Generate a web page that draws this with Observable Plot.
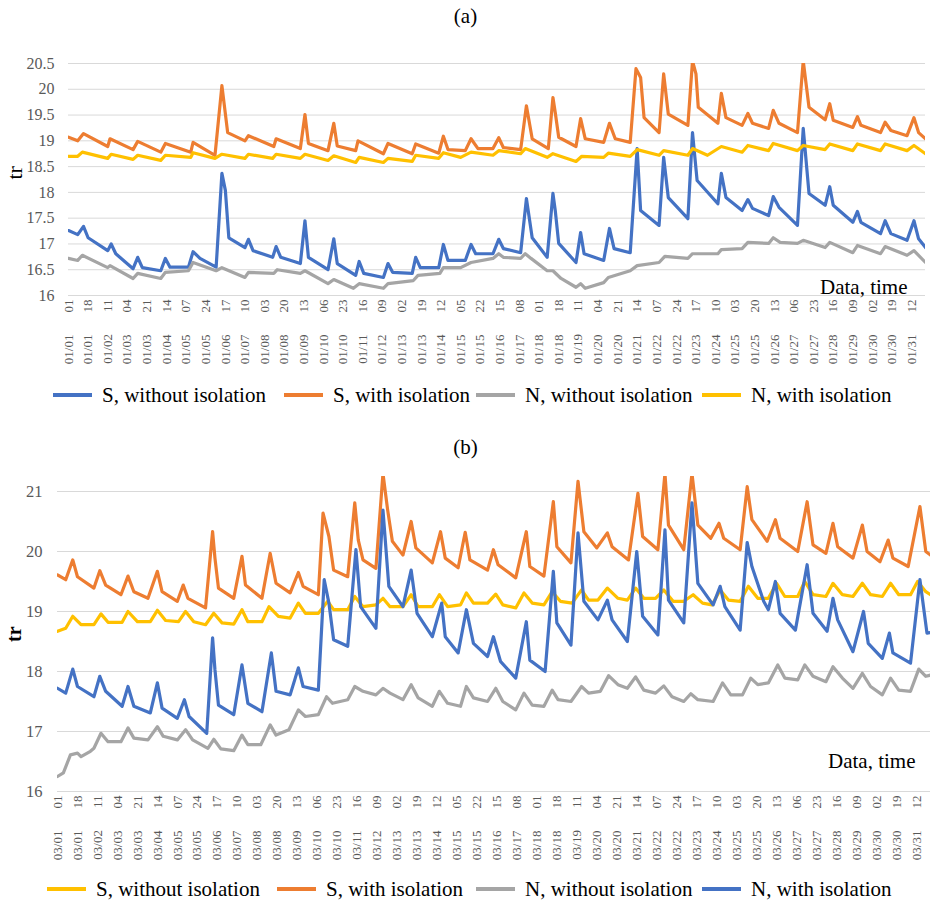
<!DOCTYPE html>
<html><head><meta charset="utf-8">
<script src="https://cdn.jsdelivr.net/npm/d3@7"></script>
<script src="https://cdn.jsdelivr.net/npm/@observablehq/plot@0.6"></script>
<style>
body{margin:0;background:#fff;font-family:"Liberation Serif","Times New Roman",Times,"DejaVu Serif","Noto Serif",serif;}
#wrap{position:relative;width:931px;height:907px;overflow:hidden;}
.title{position:absolute;left:0;width:931px;text-align:center;font-size:21px;line-height:30px;height:30px;color:#000;}
.legend{position:absolute;left:0;width:931px;height:30px;}
.item{position:absolute;top:0;height:30px;display:flex;align-items:center;font-size:21px;white-space:nowrap;color:#000;}
.sw{display:inline-block;width:39px;height:4px;margin-right:10px;}
.chart{position:absolute;left:0;}
svg text{white-space:pre;}
</style></head><body><div id="wrap">
<div class="title" style="top:1px">(a)</div>
<div class="chart" id="ca" style="top:30px"></div>
<div class="legend" id="la" style="top:380px"></div>
<div class="title" style="top:432px">(b)</div>
<div class="chart" id="cb" style="top:468px"></div>
<div class="legend" id="lb" style="top:874px"></div>
</div>
<script>
const FONT = '"Liberation Serif","Times New Roman",Times,"DejaVu Serif","Noto Serif",serif';
// ---------- tick labels ----------
const labelsA = ["01/01 01","01/01 18","01/02 11","01/03 04","01/03 21","01/04 14","01/05 07","01/05 24","01/06 17","01/07 10","01/08 03","01/08 20","01/09 13","01/10 06","01/10 23","01/11 16","01/12 09","01/13 02","01/13 19","01/14 12","01/15 05","01/15 22","01/16 15","01/17 08","01/18 01","01/18 18","01/19 11","01/20 04","01/20 21","01/21 14","01/22 07","01/22 24","01/23 17","01/24 10","01/25 03","01/25 20","01/26 13","01/27 06","01/27 23","01/28 16","01/29 09","01/30 02","01/30 19","01/31 12"];
const labelsB = ["03/01 01","03/01 18","03/02 11","03/03 04","03/03 21","03/04 14","03/05 07","03/05 24","03/06 17","03/07 10","03/08 03","03/08 20","03/09 13","03/10 06","03/10 23","03/11 16","03/12 09","03/13 02","03/13 19","03/14 12","03/15 05","03/15 22","03/16 15","03/17 08","03/18 01","03/18 18","03/19 11","03/20 04","03/20 21","03/21 14","03/22 07","03/22 24","03/23 17","03/24 10","03/25 03","03/25 20","03/26 13","03/27 06","03/27 23","03/28 16","03/29 09","03/30 02","03/30 19","03/31 12"];
const yTicksA = [16,16.5,17,17.5,18,18.5,19,19.5,20,20.5];
const yTicksB = [16,17,18,19,20,21];

// ---------- panel (a) series: [hour of month, value] ----------
const aSwithout = [[1,17.26],[9,17.18],[14,17.34],[18,17.12],[35,16.87],[38,17.0],[42,16.81],[57,16.52],[61,16.74],[65,16.54],[81,16.48],[85,16.72],[89,16.55],[105,16.55],[109,16.85],[115,16.72],[129,16.55],[134,18.37],[137,18.04],[140,17.12],[154,16.93],[157,17.09],[161,16.87],[178,16.74],[181,16.95],[185,16.74],[202,16.62],[206,17.45],[209,16.74],[226,16.5],[231,17.1],[234,16.62],[250,16.39],[253,16.66],[257,16.43],[274,16.35],[278,16.62],[282,16.45],[299,16.43],[302,16.74],[306,16.54],[322,16.54],[326,16.99],[330,16.68],[345,16.68],[350,16.99],[354,16.81],[369,16.81],[374,17.09],[378,16.91],[393,16.83],[398,17.88],[403,17.12],[416,16.74],[421,17.98],[423,17.65],[426,17.01],[441,16.64],[445,17.22],[448,16.81],[465,16.68],[470,17.3],[474,16.91],[488,16.83],[494,18.85],[497,17.65],[513,17.36],[517,18.68],[521,17.9],[538,17.49],[542,19.16],[546,18.23],[564,17.78],[567,18.37],[571,17.9],[585,17.65],[590,17.86],[594,17.69],[608,17.55],[612,17.92],[617,17.71],[633,17.36],[638,19.24],[643,17.98],[657,17.75],[661,18.11],[664,17.75],[681,17.42],[685,17.63],[688,17.42],[705,17.2],[709,17.45],[714,17.2],[728,17.07],[734,17.45],[738,17.1],[744,16.93]];
const aSwith = [[1,19.07],[9,19.0],[14,19.14],[35,18.89],[37,19.04],[57,18.83],[61,18.99],[81,18.78],[85,18.95],[107,18.78],[109,18.97],[128,18.72],[134,20.07],[139,19.16],[154,19.0],[157,19.1],[179,18.89],[181,19.04],[202,18.85],[206,19.51],[209,18.95],[226,18.81],[231,19.34],[234,18.9],[250,18.81],[252,19.0],[274,18.75],[278,18.95],[299,18.75],[302,18.94],[322,18.76],[326,19.09],[330,18.83],[345,18.81],[350,19.04],[356,18.85],[369,18.85],[374,19.06],[378,18.87],[393,18.83],[398,19.68],[403,19.04],[417,18.85],[421,19.84],[423,19.55],[426,19.07],[441,18.89],[445,19.43],[449,19.04],[465,18.97],[470,19.34],[475,19.04],[488,18.97],[493,20.4],[497,20.23],[500,19.45],[513,19.16],[517,20.3],[521,19.52],[538,19.3],[542,20.55],[545,20.3],[547,19.65],[564,19.34],[567,19.92],[571,19.45],[585,19.3],[590,19.53],[594,19.34],[608,19.24],[612,19.59],[617,19.34],[633,19.16],[638,20.55],[643,19.65],[657,19.41],[661,19.72],[664,19.4],[681,19.26],[685,19.47],[688,19.3],[705,19.16],[709,19.36],[714,19.2],[728,19.1],[734,19.45],[738,19.16],[744,19.04]];
const aNwithout = [[1,16.72],[9,16.68],[13,16.78],[35,16.54],[37,16.58],[57,16.33],[61,16.43],[81,16.33],[85,16.45],[105,16.48],[109,16.64],[129,16.48],[134,16.54],[154,16.35],[157,16.45],[179,16.43],[182,16.5],[202,16.43],[206,16.48],[226,16.23],[231,16.31],[248,16.14],[253,16.23],[274,16.14],[278,16.23],[300,16.29],[304,16.39],[323,16.43],[326,16.54],[341,16.54],[350,16.64],[369,16.72],[374,16.81],[378,16.74],[393,16.72],[397,16.81],[402,16.72],[416,16.48],[421,16.48],[428,16.33],[441,16.16],[445,16.23],[449,16.14],[465,16.25],[469,16.35],[488,16.48],[494,16.58],[513,16.64],[518,16.76],[538,16.72],[542,16.81],[564,16.81],[567,16.89],[585,16.91],[590,17.03],[608,17.01],[612,17.12],[618,17.03],[633,17.01],[638,17.07],[657,16.93],[661,17.03],[681,16.83],[685,16.97],[705,16.81],[709,16.95],[728,16.78],[734,16.87],[744,16.64]];
const aNwith = [[1,18.7],[9,18.7],[13,18.78],[35,18.66],[38,18.74],[57,18.64],[61,18.72],[81,18.62],[85,18.72],[107,18.68],[109,18.77],[128,18.66],[134,18.74],[154,18.66],[157,18.74],[178,18.66],[181,18.74],[202,18.66],[206,18.74],[226,18.62],[231,18.71],[250,18.58],[253,18.68],[274,18.58],[278,18.66],[299,18.6],[302,18.72],[322,18.66],[326,18.77],[341,18.68],[350,18.78],[369,18.72],[374,18.81],[393,18.75],[397,18.85],[416,18.68],[421,18.75],[441,18.6],[446,18.7],[465,18.68],[469,18.76],[488,18.7],[494,18.83],[513,18.72],[517,18.81],[538,18.72],[542,18.85],[555,18.72],[567,18.89],[585,18.78],[590,18.91],[608,18.81],[612,18.95],[633,18.81],[638,18.91],[657,18.83],[661,18.94],[681,18.81],[685,18.94],[705,18.81],[709,18.94],[728,18.81],[734,18.91],[744,18.75]];

// ---------- panel (b) series ----------
const bSwithout = [[1,18.67],[8,18.72],[14,18.92],[21,18.78],[32,18.78],[38,18.96],[44,18.82],[56,18.82],[61,19.0],[69,18.83],[80,18.83],[86,19.02],[93,18.85],[104,18.83],[110,19.0],[117,18.83],[127,18.78],[134,18.97],[141,18.81],[151,18.79],[158,19.03],[163,18.83],[175,18.83],[181,19.08],[189,18.92],[199,18.89],[206,19.14],[212,18.97],[223,18.97],[231,19.17],[236,19.03],[248,19.03],[254,19.25],[261,19.08],[272,19.11],[278,19.22],[284,19.08],[295,19.08],[302,19.28],[308,19.08],[320,19.08],[326,19.28],[333,19.08],[344,19.11],[349,19.31],[355,19.14],[367,19.14],[374,19.29],[380,19.11],[391,19.06],[398,19.31],[405,19.14],[415,19.11],[422,19.33],[429,19.17],[439,19.14],[447,19.36],[453,19.19],[461,19.19],[469,19.39],[478,19.22],[486,19.19],[493,19.39],[500,19.22],[510,19.22],[517,19.36],[525,19.17],[534,19.17],[542,19.28],[550,19.14],[558,19.11],[565,19.36],[572,19.19],[582,19.17],[589,19.42],[597,19.22],[606,19.22],[613,19.47],[620,19.25],[631,19.25],[637,19.5],[644,19.28],[655,19.25],[661,19.47],[669,19.28],[678,19.25],[686,19.47],[693,19.28],[703,19.25],[710,19.47],[717,19.28],[727,19.28],[733,19.5],[740,19.33],[744,19.28]];
const bSwith = [[1,19.61],[8,19.53],[14,19.86],[18,19.58],[32,19.39],[37,19.68],[42,19.44],[55,19.28],[61,19.59],[66,19.33],[78,19.22],[86,19.67],[90,19.33],[103,19.17],[108,19.44],[112,19.22],[127,19.06],[133,20.33],[135,19.89],[138,19.39],[151,19.22],[158,19.92],[161,19.44],[175,19.22],[182,19.97],[187,19.47],[199,19.31],[206,19.65],[210,19.42],[223,19.28],[227,20.64],[232,20.25],[236,19.69],[248,19.58],[254,20.81],[257,20.19],[261,19.86],[272,19.72],[278,21.3],[282,20.69],[286,20.17],[295,19.94],[302,20.5],[306,20.06],[320,19.81],[327,20.33],[331,19.89],[342,19.73],[348,20.32],[352,19.86],[367,19.69],[372,20.03],[376,19.78],[391,19.56],[400,20.33],[403,19.75],[415,19.59],[423,20.83],[426,20.08],[438,19.81],[444,21.17],[449,20.33],[460,20.06],[469,20.31],[473,20.08],[487,19.86],[495,20.97],[499,20.25],[512,20.03],[518,21.3],[521,20.44],[534,20.03],[541,21.3],[546,20.44],[557,20.22],[564,20.47],[568,20.22],[582,20.03],[588,21.08],[592,20.53],[605,20.17],[612,20.53],[616,20.22],[631,20.0],[639,20.83],[644,20.11],[655,19.97],[661,20.47],[665,20.08],[678,19.89],[686,20.44],[690,20.0],[701,19.83],[708,20.19],[712,19.89],[725,19.75],[735,20.75],[740,20.0],[744,19.94]];
const bNwithout = [[1,16.25],[6,16.31],[12,16.61],[18,16.64],[21,16.58],[29,16.67],[32,16.72],[38,16.97],[44,16.83],[55,16.83],[61,17.06],[66,16.89],[78,16.86],[86,17.08],[91,16.92],[103,16.86],[110,17.03],[116,16.86],[129,16.72],[134,16.87],[140,16.71],[151,16.68],[158,16.94],[163,16.78],[174,16.78],[182,17.11],[187,16.94],[198,17.03],[206,17.36],[212,17.25],[223,17.28],[230,17.58],[235,17.47],[248,17.53],[254,17.75],[261,17.67],[272,17.61],[278,17.72],[284,17.64],[295,17.53],[302,17.78],[308,17.56],[320,17.42],[326,17.67],[333,17.47],[344,17.42],[349,17.75],[355,17.56],[367,17.5],[374,17.72],[380,17.5],[391,17.36],[398,17.64],[405,17.44],[415,17.42],[422,17.69],[427,17.53],[438,17.5],[447,17.75],[453,17.64],[463,17.67],[470,17.93],[478,17.78],[486,17.72],[493,17.91],[500,17.69],[510,17.64],[517,17.76],[524,17.58],[534,17.5],[540,17.63],[546,17.53],[559,17.5],[567,17.81],[574,17.61],[584,17.61],[591,17.89],[597,17.78],[606,17.81],[614,18.11],[620,17.89],[631,17.86],[637,18.11],[644,17.92],[655,17.83],[661,18.08],[669,17.89],[678,17.72],[686,17.97],[693,17.75],[703,17.61],[710,17.89],[717,17.69],[727,17.67],[734,18.04],[740,17.92],[744,17.94]];
const bNwith = [[1,17.72],[8,17.64],[14,18.04],[18,17.75],[32,17.58],[37,17.92],[42,17.67],[56,17.42],[61,17.75],[66,17.42],[80,17.31],[86,17.81],[90,17.39],[103,17.22],[109,17.53],[113,17.25],[128,16.97],[133,18.56],[135,18.03],[138,17.44],[151,17.28],[158,18.11],[163,17.47],[175,17.33],[183,18.31],[187,17.67],[199,17.61],[206,18.06],[210,17.75],[223,17.69],[228,19.53],[232,19.14],[236,18.53],[248,18.42],[255,20.03],[259,19.08],[272,18.72],[278,20.69],[283,19.42],[295,19.08],[302,19.69],[307,18.97],[320,18.58],[328,19.14],[331,18.58],[342,18.31],[349,19.03],[355,18.47],[367,18.25],[372,18.58],[378,18.17],[391,17.89],[400,18.83],[403,18.19],[416,18.0],[423,19.67],[426,18.81],[438,18.44],[444,20.31],[449,19.17],[461,18.86],[469,19.19],[473,18.86],[486,18.5],[494,20.0],[499,18.92],[512,18.61],[518,20.36],[521,19.19],[534,18.81],[541,20.81],[546,19.47],[559,19.11],[565,19.42],[569,19.08],[582,18.69],[588,20.15],[592,19.75],[602,19.17],[606,19.03],[612,19.5],[616,18.97],[629,18.69],[639,19.78],[644,18.97],[656,18.67],[661,19.22],[665,18.86],[678,18.33],[687,19.0],[691,18.47],[703,18.22],[709,18.64],[712,18.31],[727,18.14],[735,19.53],[741,18.64],[744,18.65]];

const seriesNames = ["S, without isolation","S, with isolation","N, without isolation","N, with isolation"];
const colorsA = ["#4472C4","#ED7D31","#A5A5A5","#FFC000"];
const colorsB = ["#FFC000","#ED7D31","#A5A5A5","#4472C4"];

function hourOf(lbl){ const [md, hh] = lbl.split(" "); const day = +md.split("/")[1]; return (day-1)*24 + (+hh); }
function fmtLabel(lbl){ const [md, hh] = lbl.split(" "); return md + "\u2003\u2002\u2009" + hh; }

function makePanel(opts){
  const {series, colors, labels, yDomain, yTicks, height, mt, mb, ml, mr, padY, yFont, dataTimeDx, dataTimeDy, trDy, trWeight, trSize} = opts;
  const tickHours = labels.map(hourOf);
  const labMap = new Map(labels.map(l => [hourOf(l), fmtLabel(l)]));
  const marks = [
    Plot.gridY(yTicks, {stroke:"#d9d9d9", strokeOpacity:1, strokeWidth:1}),
    Plot.axisY(yTicks, {tickSize:0, tickPadding:padY, fontSize:yFont, fill:"#595959", label:null, tickFormat: d => String(d)}),
    Plot.axisX(tickHours, {tickSize:0, tickRotate:-90, tickPadding:4, fontSize:13, fill:"#595959", label:null, tickFormat: h => labMap.get(h)}),
  ];
  series.forEach((s,i) => marks.push(Plot.line(s, {x: d => d[0], y: d => d[1], stroke: colors[i], strokeWidth: 3.2, strokeLinejoin:"round", clip:true})));
  marks.push(Plot.text(["Data, time"], {frameAnchor:"bottom-right", textAnchor:"end", lineAnchor:"bottom", dx:dataTimeDx, dy:dataTimeDy, fontSize:21, fill:"#000"}));
  marks.push(Plot.text(["tr"], {frameAnchor:"left", rotate:-90, dx:-(ml-14), dy:trDy, fontSize:trSize, fill:"#000", fontWeight:trWeight}));
  return Plot.plot({
    width:931, height, marginTop:mt, marginBottom:mb, marginLeft:ml, marginRight:mr,
    style:{fontFamily:FONT, background:"transparent", overflow:"visible"},
    x:{domain:[1,744]}, y:{domain:yDomain},
    marks
  });
}

document.getElementById("ca").appendChild(makePanel({
  series:[aSwithout,aSwith,aNwithout,aNwith], colors:colorsA, labels:labelsA,
  yDomain:[16,20.5], yTicks:yTicksA, height:345, mt:33, mb:80, ml:68, mr:6, padY:14, yFont:16,
  dataTimeDx:-18, dataTimeDy:-2, trDy:0, trWeight:"normal", trSize:22
}));
document.getElementById("cb").appendChild(makePanel({
  series:[bSwithout,bSwith,bNwithout,bNwith], colors:colorsB, labels:labelsB,
  yDomain:[16,21.25], yTicks:yTicksB, height:407, mt:8, mb:84, ml:57, mr:1, padY:15, yFont:16.5,
  dataTimeDx:-15, dataTimeDy:-24, trDy:8, trWeight:"bold", trSize:20
}));

function legend(id, colors, xs){
  const el = document.getElementById(id);
  seriesNames.forEach((n,i) => {
    const it = document.createElement("div");
    it.className = "item"; it.style.left = xs[i] + "px";
    it.innerHTML = `<span class="sw" style="background:${colors[i]}"></span><span>${n}</span>`;
    el.appendChild(it);
  });
}
legend("la", colorsA, [53, 284, 476, 702]);
legend("lb", colorsB, [47, 277, 476, 702]);
</script></body></html>
